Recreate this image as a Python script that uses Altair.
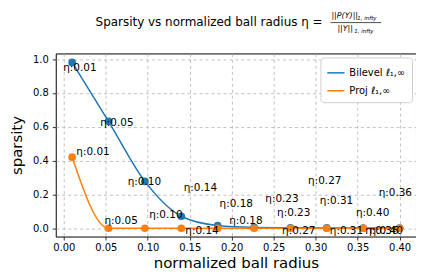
import altair as alt
import pandas as pd

# ---- data ----
radius = [0.01, 0.0533, 0.0967, 0.14, 0.1833, 0.2267, 0.27, 0.3133, 0.3567, 0.40]
bilevel = [0.98, 0.632, 0.277, 0.071, 0.016, 0.005, 0.003, 0.002, 0.001, 0.001]
proj = [0.42, 0.0, 0.0, 0.0, 0.0, 0.0, 0.0, 0.0, 0.0, 0.0]
series_names = ["Bilevel ℓ₁,∞", "Proj ℓ₁,∞"]
eta_labels = ["η:0.01", "η:0.05", "η:0.10", "η:0.14", "η:0.18",
              "η:0.23", "η:0.27", "η:0.31", "η:0.36", "η:0.40"]
# annotation anchor points (data coordinates) as placed in the reference
bilevel_label_x = [-0.0007, 0.0434, 0.0762, 0.1428, 0.1856, 0.240, 0.291, 0.305, 0.375, 0.348]
bilevel_label_y = [0.949, 0.62, 0.273, 0.238, 0.143, 0.173, 0.277, 0.159, 0.208, 0.091]
proj_label_x = [0.015, 0.0485, 0.1018, 0.1448, 0.197, 0.254, 0.260, 0.3168, 0.359, 0.364]
proj_label_y = [0.449, 0.045, 0.076, -0.014, 0.045, 0.091, -0.014, -0.014, -0.014, -0.014]
x_ticks = [0.0, 0.05, 0.10, 0.15, 0.20, 0.25, 0.30, 0.35, 0.40]
y_ticks = [0.0, 0.2, 0.4, 0.6, 0.8, 1.0]
title_main = "Sparsity vs normalized ball radius η ="
title_num = "||P(Y)||"
title_den = "||Y||"
title_sub = "1, infty"

df = pd.DataFrame({
    "radius": radius + radius,
    "sparsity": bilevel + proj,
    "series": [series_names[0]] * len(radius) + [series_names[1]] * len(radius),
})
labels = pd.DataFrame({
    "lx": bilevel_label_x + proj_label_x,
    "ly": bilevel_label_y + proj_label_y,
    "text": eta_labels + eta_labels,
})

FONT = "DejaVu Sans"
xs = alt.Scale(domain=[-0.0095, 0.4195], nice=False, zero=False)
ys = alt.Scale(domain=[-0.049, 1.033], nice=False, zero=False)
cs = alt.Scale(domain=series_names, range=["#1f77b4", "#ff7f0e"])

X = alt.X("radius:Q", scale=xs,
          axis=alt.Axis(values=x_ticks, tickCount=len(x_ticks) + 2, format=".2f",
                        title="normalized ball radius",
                        titlePadding=3, labelPadding=3, labelOverlap=False))
Y = alt.Y("sparsity:Q", scale=ys,
          axis=alt.Axis(values=y_ticks, tickCount=len(y_ticks) + 2, format=".1f",
                        title="sparsity",
                        titlePadding=8, labelPadding=4, labelOverlap=False))

base = alt.Chart(df)
lines = base.mark_line(interpolate="monotone", strokeWidth=1.5).encode(
    x=X, y=Y,
    color=alt.Color("series:N", scale=cs, sort=series_names,
                    legend=alt.Legend(title=None, orient="top-right", offset=4,
                                      symbolType="stroke", symbolSize=300,
                                      symbolStrokeWidth=1.5, labelFontSize=10,
                                      labelFont=FONT, labelColor="black",
                                      fillColor="white", strokeColor="#d0d0d0",
                                      cornerRadius=3, padding=6, rowPadding=3,
                                      symbolOffset=0)),
)
points = base.mark_circle(size=60, opacity=1).encode(
    x=alt.X("radius:Q", scale=xs),
    y=alt.Y("sparsity:Q", scale=ys),
    color=alt.Color("series:N", scale=cs, legend=None),
)
texts = alt.Chart(labels).mark_text(align="left", baseline="middle", fontSize=10.5,
                                    font=FONT, color="black").encode(
    x=alt.X("lx:Q", scale=xs),
    y=alt.Y("ly:Q", scale=ys),
    text="text:N",
)

def tmark(s, x, y, size, style="normal", align="left"):
    return alt.Chart(pd.DataFrame({"t": [s]})).mark_text(
        align=align, baseline="middle", fontSize=size, font=FONT,
        fontStyle=style, color="black").encode(
        x=alt.value(x), y=alt.value(y), text="t:N")

t_main = tmark(title_main, 40, -32, 12)
t_num = tmark(title_num, 277, -38, 8, "italic")
t_nsub = tmark(title_sub, 303, -36, 5.5, "italic")
t_den = tmark(title_den, 283, -24.5, 8, "italic")
t_dsub = tmark(title_sub, 300, -22.5, 5.5, "italic")
bar = alt.Chart(pd.DataFrame({"t": [0]})).mark_rule(color="black", strokeWidth=0.7).encode(
    x=alt.value(276), x2=alt.value(327), y=alt.value(-31))

chart = alt.layer(lines, points, texts, t_main, t_num, t_nsub, t_den, t_dsub, bar).properties(
    width=362, height=184,
    padding={"left": 48, "top": 45, "right": 0, "bottom": 43},
    autosize=alt.AutoSizeParams(type="none"),
).configure(font=FONT).configure_view(
    stroke="black", strokeWidth=1
).configure_axis(
    domain=False, grid=True, gridColor="#b0b0b0", gridDash=[3, 3], gridWidth=0.8,
    gridOpacity=1, tickColor="black", tickSize=3.5, tickWidth=0.8,
    labelFont=FONT, labelFontSize=10, labelColor="black",
    titleFont=FONT, titleFontSize=15, titleFontWeight="normal", titleColor="black",
)

chart.save("out.html", embed_options={"renderer": "svg", "actions": False})
